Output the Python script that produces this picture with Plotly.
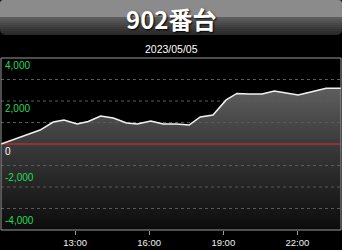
import plotly.graph_objects as go

# ---- data ----
DATE = "2023-05-05"
TIMES = ["10:00", "11:35", "12:07", "12:33", "13:05", "13:32", "14:02", "14:33",
         "15:05", "15:31", "16:04", "16:34", "17:07", "17:37", "18:04", "18:35",
         "19:07", "19:33", "20:02", "20:34", "21:04", "21:34", "22:02", "22:35",
         "23:10", "23:46"]
VALUES = [0, 650, 1020, 1120, 930, 1050, 1300, 1210,
          980, 930, 1070, 930, 930, 880, 1260, 1350,
          2050, 2350, 2330, 2330, 2470, 2370, 2280, 2430,
          2590, 2590]
X_RANGE = ["10:00", "23:46"]
Y_RANGE = [-4000, 4000]
GRID_VALUES = [3000, 2000, 1000, -1000, -2000, -3000]
Y_LABELS = [4000, 2000, 0, -2000, -4000]
X_TICKS = ["13:00", "16:00", "19:00", "22:00"]
TITLE = "902番台"
SUBTITLE = "2023/05/05"

W, H = 342, 250
ML, MR, MT, MB = 1, 1, 58, 20
PW, PH = W - ML - MR, H - MT - MB


def px(xp):
    return (xp - ML) / PW


def py(yp):
    return (H - MB - yp) / PH


xs = [f"{DATE} {t}" for t in TIMES]
xr = [f"{DATE} {t}" for t in X_RANGE]

fig = go.Figure()
# baseline at bottom of axis for the gradient fill
fig.add_trace(go.Scatter(x=xr, y=[Y_RANGE[0], Y_RANGE[0]], mode="lines",
                         line=dict(width=0), hoverinfo="skip", showlegend=False))
fig.add_trace(go.Scatter(x=xs, y=VALUES, mode="lines", line=dict(width=0),
                         fill="tonexty",
                         fillgradient=dict(type="vertical", start=Y_RANGE[0], stop=max(VALUES),
                                           colorscale=[[0, "#0b0b0b"], [0.6, "#3a3a3a"], [1, "#5e5e5e"]]),
                         hoverinfo="skip", showlegend=False))
for g in GRID_VALUES:
    fig.add_trace(go.Scatter(x=xr, y=[g, g], mode="lines",
                             line=dict(color="#5a5a5a", width=1, dash="3px,3px"),
                             hoverinfo="skip", showlegend=False))
fig.add_trace(go.Scatter(x=xr, y=[0, 0], mode="lines",
                         line=dict(color="#e03030", width=1.2),
                         hoverinfo="skip", showlegend=False))
fig.add_trace(go.Scatter(x=xs, y=VALUES, mode="lines",
                         line=dict(color="#f2f2f2", width=1.5),
                         showlegend=False))

# title box
shapes = []
shapes.append(dict(type="rect", xref="paper", yref="paper", x0=px(0), x1=px(W),
                   y0=py(17), y1=py(0), fillcolor="#8b8b8b", line=dict(width=0), layer="above"))
grad = ["#5e5e5e", "#575757", "#505050", "#494949", "#424242", "#3b3b3b", "#353535", "#2f2f2f", "#2a2a2a"]
for i, c in enumerate(grad):
    shapes.append(dict(type="rect", xref="paper", yref="paper", x0=px(0), x1=px(W),
                       y0=py(17 + 2 * (i + 1)), y1=py(17 + 2 * i), fillcolor=c,
                       line=dict(width=0), layer="above"))
r = 6
corners = [
    (0, 35, 0, 35 - r, r, 35),
    (W, 35, W, 35 - r, W - r, 35),
    (0, 0, 0, 3, 3, 0),
    (W, 0, W, 3, W - 3, 0),
]
for cx, cy, ax, ay, bx, by in corners:
    path = (f"M {px(cx)},{py(cy)} L {px(ax)},{py(ay)} "
            f"Q {px(cx)},{py(cy)} {px(bx)},{py(by)} Z")
    shapes.append(dict(type="path", xref="paper", yref="paper", path=path,
                       fillcolor="#000000", line=dict(width=0), layer="above"))
# light border of the plot
shapes.append(dict(type="rect", xref="paper", yref="paper", x0=0, x1=1, y0=0, y1=1,
                   line=dict(color="#9a9a9a", width=1), layer="above"))

annotations = [
    dict(text=TITLE, xref="paper", yref="paper", x=px(171), y=py(18),
         xanchor="center", yanchor="middle", showarrow=False,
         font=dict(family="Noto Sans CJK JP", size=24, color="#ffffff", weight="bold",
                   shadow="1px 1px 2px #000")),
    dict(text=SUBTITLE, xref="paper", yref="paper", x=px(171), y=py(49),
         xanchor="center", yanchor="middle", showarrow=False,
         font=dict(family="Liberation Sans", size=10.5, color="#ffffff")),
]
for v in Y_LABELS:
    annotations.append(dict(
        text=f"{v:,}", xref="paper", yref="y", x=px(3), y=v,
        xanchor="left", yanchor="top" if v >= 0 else "bottom",
        yshift=0 if v >= 0 else 2, showarrow=False,
        font=dict(family="Liberation Sans", size=10,
                  color="#ffffff" if v == 0 else "#22dd55")))

fig.update_layout(
    width=W, height=H,
    margin=dict(l=ML, r=MR, t=MT, b=MB, pad=0),
    paper_bgcolor="#000000", plot_bgcolor="#000000",
    shapes=shapes, annotations=annotations,
    xaxis=dict(type="date", range=xr, showgrid=False, zeroline=False,
               tickvals=[f"{DATE} {t}" for t in X_TICKS], ticktext=X_TICKS,
               ticks="outside", ticklen=4, tickcolor="#9a9a9a",
               tickfont=dict(family="Liberation Sans", size=9.5, color="#f0f0f0"),
               showline=False, fixedrange=True),
    yaxis=dict(range=Y_RANGE, showgrid=False, zeroline=False, showticklabels=False,
               showline=False, fixedrange=True),
)

fig.write_html("out.html", config={"displayModeBar": False})
